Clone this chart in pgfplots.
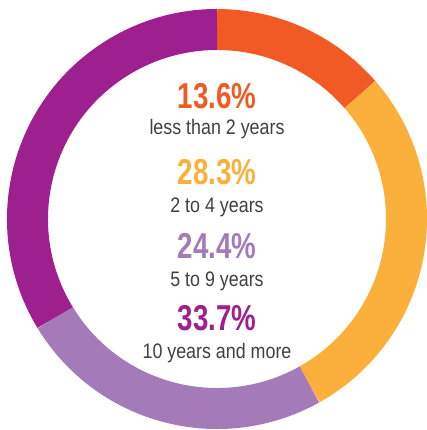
\documentclass[border=0pt]{standalone}
\usepackage{fontspec}
\usepackage{pgfplots}
\pgfplotsset{compat=1.18}
\newfontfamily\pctfont{Liberation Sans}[FakeStretch=0.77]
\newfontfamily\lblfont{Liberation Sans}[FakeStretch=0.85]
\definecolor{cOrange}{HTML}{F15A24}
\definecolor{cYellow}{HTML}{FBB03B}
\definecolor{cLav}{HTML}{A47BB8}
\definecolor{cPurple}{HTML}{9E1F8E}
\definecolor{cText}{HTML}{404040}

\begin{document}
\begin{tikzpicture}
% shares (percent), clockwise from 12 o'clock
\pgfmathsetmacro\aA{90}
\pgfmathsetmacro\aB{\aA-3.6*13.6}
\pgfmathsetmacro\aC{\aB-3.6*28.3}
\pgfmathsetmacro\aD{\aC-3.6*24.4}
\pgfmathsetmacro\aE{\aD-3.6*33.7}
\begin{axis}[
    hide axis, clip=false,
    x=1pt, y=1pt,
    xmin=-217, xmax=210,
    ymin=-211, ymax=219,
]
\addplot[draw=none] coordinates {(0,0)};
\draw[line width=41pt, cOrange] (axis cs:0,0) ++(\aA:189.5pt) arc[start angle=\aA, end angle=\aB, radius=189.5pt];
\draw[line width=41pt, cYellow] (axis cs:0,0) ++(\aB:189.5pt) arc[start angle=\aB, end angle=\aC, radius=189.5pt];
\draw[line width=41pt, cLav] (axis cs:0,0) ++(\aC:189.5pt) arc[start angle=\aC, end angle=\aD, radius=189.5pt];
\draw[line width=41pt, cPurple] (axis cs:0,0) ++(\aD:189.5pt) arc[start angle=\aD, end angle=\aE, radius=189.5pt];

\node[anchor=base, inner sep=0, text=cOrange, font=\pctfont\bfseries\fontsize{36}{36}\selectfont] at (axis cs:0,110) {13.6\%};
\node[anchor=base, inner sep=0, text=cText, font=\lblfont\fontsize{21}{21}\selectfont] at (axis cs:0,84) {less than 2 years};
\node[anchor=base, inner sep=0, text=cYellow, font=\pctfont\bfseries\fontsize{36}{36}\selectfont] at (axis cs:0,34) {28.3\%};
\node[anchor=base, inner sep=0, text=cText, font=\lblfont\fontsize{21}{21}\selectfont] at (axis cs:0,6) {2 to 4 years};
\node[anchor=base, inner sep=0, text=cLav, font=\pctfont\bfseries\fontsize{36}{36}\selectfont] at (axis cs:0,-40) {24.4\%};
\node[anchor=base, inner sep=0, text=cText, font=\lblfont\fontsize{21}{21}\selectfont] at (axis cs:0,-68) {5 to 9 years};
\node[anchor=base, inner sep=0, text=cPurple, font=\pctfont\bfseries\fontsize{36}{36}\selectfont] at (axis cs:0,-112) {33.7\%};
\node[anchor=base, inner sep=0, text=cText, font=\lblfont\fontsize{21}{21}\selectfont] at (axis cs:0,-140) {10 years and more};
\end{axis}
\pgfresetboundingbox
\useasboundingbox (current axis.south west) rectangle (current axis.north east);
\end{tikzpicture}
\end{document}
